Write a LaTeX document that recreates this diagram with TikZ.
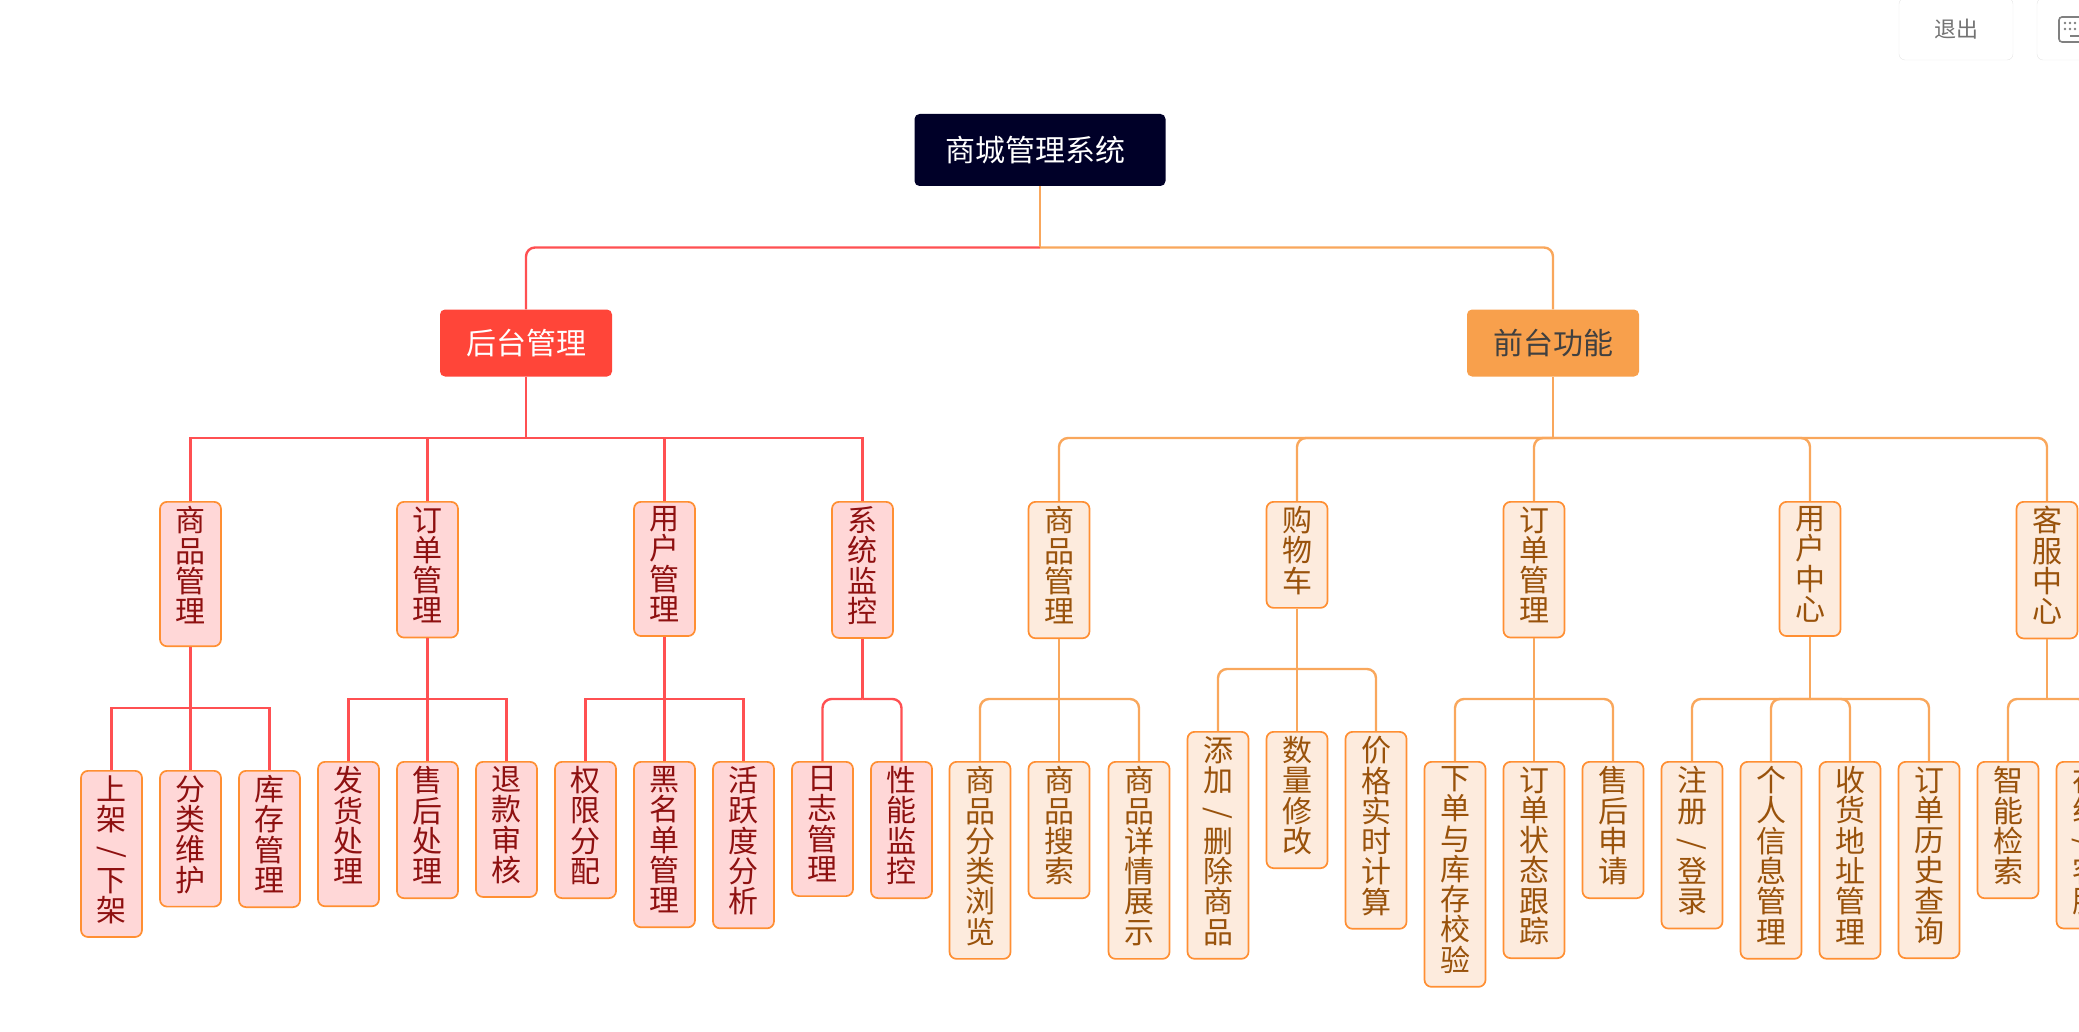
\documentclass[tikz,border=0pt]{standalone}
\usepackage{fontspec}
\setmainfont{Noto Sans CJK SC}
\usetikzlibrary{shapes,positioning,calc}
\definecolor{rootNavy}{HTML}{000028}
\definecolor{primaryRed}{HTML}{FF4539}
\definecolor{primaryOrange}{HTML}{F8A04C}
\definecolor{lineRed}{HTML}{FF5052}
\definecolor{lineOrange}{HTML}{F9A75C}
\definecolor{borderOrange}{HTML}{FF8F33}
\definecolor{paleRed}{HTML}{FFD7D7}
\definecolor{paleOrange}{HTML}{FDEBDD}
\definecolor{textRed}{HTML}{8E1010}
\definecolor{textOrange}{HTML}{99520B}
\newcommand{\vslash}{\raisebox{14pt}{\smash{\rotatebox{-90}{/}}}}
\newcommand{\tallend}{\\[-22.3pt]{}}

\begin{document}
\begin{tikzpicture}[
            x=1pt, y=-1pt,
            headbox/.style={
                    rectangle,
                    rounded corners=5pt,
                    minimum width=172pt,
                    minimum height=67pt,
                    font=\fontsize{30}{30.3}\selectfont
                },
            rootbox/.style={
                    headbox,
                    fill=rootNavy,
                    text=white,
                    minimum width=251pt,
                    minimum height=72pt
                },
            redhead/.style={headbox, fill=primaryRed, text=white},
            orangehead/.style={headbox, fill=primaryOrange, text=black!75},
            leafbox/.style={
                    rectangle,
                    rounded corners=7pt,
                    draw=borderOrange,
                    line width=1.7pt,
                    anchor=north,
                    minimum width=61pt,
                    inner xsep=0pt,
                    inner ysep=4.6pt,
                    text depth=11pt,
                    align=center,
                    font=\fontsize{30}{30.3}\selectfont
                },
            redbox/.style={leafbox, xshift=0.5pt, fill=paleRed, text=textRed},
            orangebox/.style={leafbox, fill=paleOrange, text=textOrange},
            redlink/.style={draw=lineRed, line width=2.4pt},
            orangelink/.style={draw=lineOrange, line width=2.4pt, rounded corners=9pt},
            button/.style={
                    rectangle,
                    rounded corners=6pt,
                    draw=black!10,
                    text=black!55,
                    minimum width=114pt,
                    minimum height=62pt,
                    font=\fontsize{22}{24}\selectfont
                }
        ]
        \useasboundingbox (0,0) rectangle (2079,1032);
        \clip (0,0) rectangle (2079,1032);

        \node[button] (logout) at (1956,29) {退出};
        \node[button] (keys) at (2094,29) {};
        \draw[black!50, line width=1.6pt, rounded corners=3pt] (2059,17) rectangle (2095,42);
        \foreach \dotx in {2065,2070,2075}
            \foreach \doty in {23,29}
                \fill[black!50] (\dotx,\doty) circle (1.3pt);
        \draw[black!50, line width=1.6pt] (2070,36) -- (2090,36);

        \node[rootbox] (root) at (1040,150) {商城管理系统\hspace*{10pt}};
        \node[redhead] (admin) at (526,343) {后台管理};
        \node[orangehead] (shop) at (1553,343) {前台功能};

        % admin side
        \node[redbox] (adGoods) at (190,501) {商\\品\\管\\理\tallend};
        \node[redbox] (adOrder) at (427,501) {订\\单\\管\\理};
        \node[redbox] (adUser) at (664,501) {用\\户\\管\\理};
        \node[redbox] (adWatch) at (862,501) {系\\统\\监\\控};

        \node[redbox] (onOff) at (111,770) {上\\架\\\vslash\\下\\架};
        \node[redbox] (sorting) at (190,770) {分\\类\\维\\护};
        \node[redbox] (stock) at (269,770) {库\\存\\管\\理};
        \node[redbox] (shipping) at (348,761) {发\\货\\处\\理\tallend};
        \node[redbox] (afterSale) at (427,761) {售\\后\\处\\理};
        \node[redbox] (refund) at (506,761) {退\\款\\审\\核};
        \node[redbox] (rights) at (585,761) {权\\限\\分\\配};
        \node[redbox] (blacklist) at (664,761) {黑\\名\\单\\管\\理};
        \node[redbox] (activity) at (743,761) {活\\跃\\度\\分\\析};
        \node[redbox] (logs) at (822,761) {日\\志\\管\\理};
        \node[redbox] (speed) at (901,761) {性\\能\\监\\控};

        % shop side
        \node[orangebox] (spGoods) at (1059,501) {商\\品\\管\\理};
        \node[orangebox] (spCart) at (1297,501) {购\\物\\车};
        \node[orangebox] (spOrder) at (1534,501) {订\\单\\管\\理};
        \node[orangebox] (spUser) at (1810,501) {用\\户\\中\\心};
        \node[orangebox] (spHelp) at (2047,501) {客\\服\\中\\心};

        \node[orangebox] (browse) at (980,761) {商\\品\\分\\类\\浏\\览};
        \node[orangebox] (search) at (1059,761) {商\\品\\搜\\索};
        \node[orangebox] (detail) at (1139,761) {商\\品\\详\\情\\展\\示};
        \node[orangebox] (addDel) at (1218,731) {添\\加\\\vslash\\删\\除\\商\\品};
        \node[orangebox] (amount) at (1297,731) {数\\量\\修\\改};
        \node[orangebox] (price) at (1376,731) {价\\格\\实\\时\\计\\算};
        \node[orangebox] (placing) at (1455,761) {下\\单\\与\\库\\存\\校\\验};
        \node[orangebox] (tracking) at (1534,761) {订\\单\\状\\态\\跟\\踪};
        \node[orangebox] (service) at (1613,761) {售\\后\\申\\请};
        \node[orangebox] (login) at (1692,761) {注\\册\\\vslash\\登\\录};
        \node[orangebox] (profile) at (1771,761) {个\\人\\信\\息\\管\\理};
        \node[orangebox] (address) at (1850,761) {收\\货\\地\\址\\管\\理};
        \node[orangebox] (history) at (1929,761) {订\\单\\历\\史\\查\\询};
        \node[orangebox] (smart) at (2008,761) {智\\能\\检\\索};
        \node[orangebox] (online) at (2087,761) {在\\线\\\vslash\\客\\服};

        \draw[redlink, rounded corners=9pt] (root.south |- 0,247.5) -| (admin.north);
        \draw[orangelink] (root.south |- 0,247.5) -| (shop.north);
        \draw[orangelink] (root.south) -- (root.south |- 0,247.5);

        \draw[redlink] (admin.south) -- (admin.south |- 0,438);
        \foreach \kid in {adGoods,adOrder,adUser,adWatch}
            \draw[redlink] (admin.south |- 0,438) -| (\kid.north);
        \draw[redlink] (adGoods.south) -- (adGoods.south |- 0,708);
        \foreach \kid in {onOff,sorting,stock}
            \draw[redlink] (adGoods.south |- 0,708) -| (\kid.north);
        \draw[redlink] (adOrder.south) -- (adOrder.south |- 0,699);
        \foreach \kid in {shipping,afterSale,refund}
            \draw[redlink] (adOrder.south |- 0,699) -| (\kid.north);
        \draw[redlink] (adUser.south) -- (adUser.south |- 0,699);
        \foreach \kid in {rights,blacklist,activity}
            \draw[redlink] (adUser.south |- 0,699) -| (\kid.north);
        \draw[redlink] (adWatch.south) -- (adWatch.south |- 0,699);
        \foreach \kid in {logs,speed}
            \draw[redlink, rounded corners=9pt] (adWatch.south |- 0,699) -| (\kid.north);

        \draw[orangelink] (shop.south) -- (shop.south |- 0,438);
        \foreach \kid in {spGoods,spCart,spOrder,spUser,spHelp}
            \draw[orangelink] (shop.south |- 0,438) -| (\kid.north);
        \draw[orangelink] (spGoods.south) -- (spGoods.south |- 0,699);
        \foreach \kid in {browse,search,detail}
            \draw[orangelink] (spGoods.south |- 0,699) -| (\kid.north);
        \draw[orangelink] (spCart.south) -- (spCart.south |- 0,669);
        \foreach \kid in {addDel,amount,price}
            \draw[orangelink] (spCart.south |- 0,669) -| (\kid.north);
        \draw[orangelink] (spOrder.south) -- (spOrder.south |- 0,699);
        \foreach \kid in {placing,tracking,service}
            \draw[orangelink] (spOrder.south |- 0,699) -| (\kid.north);
        \draw[orangelink] (spUser.south) -- (spUser.south |- 0,699);
        \foreach \kid in {login,profile,address,history}
            \draw[orangelink] (spUser.south |- 0,699) -| (\kid.north);
        \draw[orangelink] (spHelp.south) -- (spHelp.south |- 0,699);
        \foreach \kid in {smart,online}
            \draw[orangelink] (spHelp.south |- 0,699) -| (\kid.north);
    \end{tikzpicture}
\end{document}
